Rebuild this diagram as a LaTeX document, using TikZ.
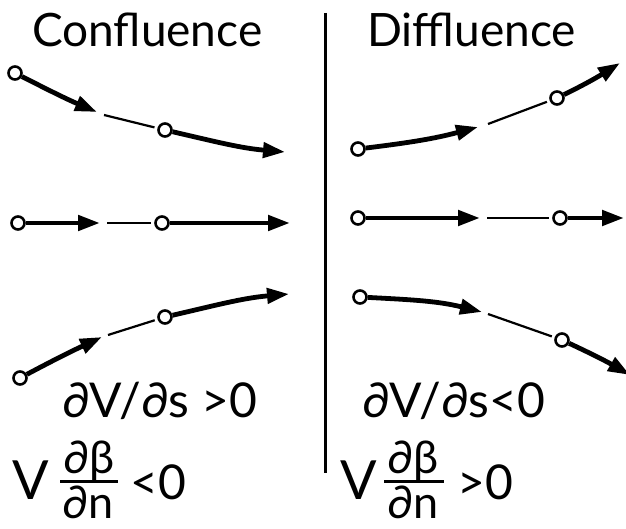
\documentclass[tikz,border=0pt]{standalone}
\usepackage{fontspec}
\setmainfont{Lato}
\usetikzlibrary{arrows.meta}
\begin{document}
\begin{tikzpicture}[x=1pt,y=1pt,
  pt/.style={circle,draw,line width=2.6pt,inner sep=0pt,minimum size=13pt,fill=white},
  flow/.style={line width=4.8pt,-{Triangle[length=22pt,width=15pt]}},
  thinline/.style={line width=2.2pt,shorten >=3pt},
  title/.style={inner sep=0pt,anchor=base west,font=\fontsize{46}{52}\selectfont},
  eq/.style={inner sep=0pt,anchor=base west,font=\fontsize{48}{56}\selectfont},
  bigv/.style={inner sep=0pt,anchor=base west,font=\fontsize{54}{60}\selectfont},
  frac/.style={inner sep=0pt,anchor=base,font=\fontsize{45}{50}\selectfont},
  fracbar/.style={line width=3pt}]
\useasboundingbox[fill=white] (0,0) rectangle (626,528);

% titles
\node[title] (tc) at (32,481) {Confluence};
\node[title] (td) at (367,481) {Diffluence};

% divider
\coordinate (vtop) at (325,515);
\coordinate (vbot) at (325,55);
\draw[line width=3pt] (vtop) -- (vbot);

% ---- Confluence ----
% top row
\node[pt] (l1a) at (15,455) {};
\coordinate (l1t) at (97,416);
\coordinate (l1s) at (104,413);
\node[pt] (l1b) at (165,398) {};
\coordinate (l1z) at (285,376);
\draw[flow] (l1a) to[out=-27,in=157] (l1t);
\draw[thinline] (l1s) -- (l1b);
\draw[flow] (l1b) to[out=-13,in=175] (l1z);
% middle row
\node[pt] (l2a) at (18,305) {};
\coordinate (l2t) at (100,305);
\coordinate (l2s) at (107,305);
\node[pt] (l2b) at (162,305) {};
\coordinate (l2z) at (290,305);
\draw[flow] (l2a) -- (l2t);
\draw[thinline] (l2s) -- (l2b);
\draw[flow] (l2b) -- (l2z);
% bottom row
\node[pt] (l3a) at (20,150) {};
\coordinate (l3t) at (102,191);
\coordinate (l3s) at (108,193);
\node[pt] (l3b) at (165,211) {};
\coordinate (l3z) at (289,234);
\draw[flow] (l3a) to[out=28,in=-155] (l3t);
\draw[thinline] (l3s) -- (l3b);
\draw[flow] (l3b) to[out=13,in=-175] (l3z);

% ---- Diffluence ----
% top row
\node[pt] (r1a) at (358,379) {};
\coordinate (r1t) at (478,401);
\coordinate (r1s) at (488,404);
\node[pt] (r1b) at (557,430) {};
\coordinate (r1z) at (620,465);
\draw[flow] (r1a) to[out=7,in=-165] (r1t);
\draw[thinline] (r1s) -- (r1b);
\draw[flow] (r1b) to[out=26,in=-148] (r1z);
% middle row
\node[pt] (r2a) at (358,310) {};
\coordinate (r2t) at (480,310);
\coordinate (r2s) at (487,310);
\node[pt] (r2b) at (560,310) {};
\coordinate (r2z) at (624,310);
\draw[flow] (r2a) -- (r2t);
\draw[thinline] (r2s) -- (r2b);
\draw[flow] (r2b) -- (r2z);
% bottom row
\node[pt] (r3a) at (360,231) {};
\coordinate (r3t) at (482,216);
\coordinate (r3s) at (488,214);
\node[pt] (r3b) at (562,188) {};
\coordinate (r3z) at (630,153);
\draw[flow] (r3a) to[out=-3,in=166] (r3t);
\draw[thinline] (r3s) -- (r3b);
\draw[flow] (r3b) to[out=-25,in=150] (r3z);

% ---- equations ----
\node[eq] (le1) at (62,111) {∂V/∂s >0};
\node[eq] (re1) at (362,111) {∂V/∂s<0};

\node[bigv] (lv) at (12,29) {V};
\node[frac] (lnum) at (89,55) {∂β};
\coordinate (lb1) at (60,47);
\coordinate (lb2) at (118,47);
\draw[fracbar] (lb1) -- (lb2);
\node[frac] (lden) at (88,10) {∂n};
\node[eq] (lrel) at (130,29) {<0};

\node[bigv] (rv) at (340,29) {V};
\node[frac] (rnum) at (413,55) {∂β};
\coordinate (rb1) at (384,47);
\coordinate (rb2) at (444,47);
\draw[fracbar] (rb1) -- (rb2);
\node[frac] (rden) at (413,10) {∂n};
\node[eq] (rrel) at (457,29) {>0};
\end{tikzpicture}
\end{document}
